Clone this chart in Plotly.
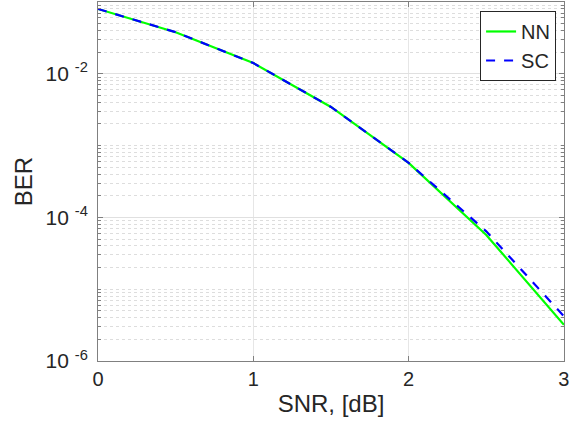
import plotly.graph_objects as go

snr_db = [0, 0.5, 1, 1.5, 2, 2.5, 3]
ber_nn = [0.080, 0.038, 0.0141, 0.00345, 5.75e-4, 5.7e-5, 3.2e-6]
ber_sc = [0.080, 0.038, 0.0141, 0.00345, 5.75e-4, 6.4e-5, 4.2e-6]

x_ticks = [0, 1, 2, 3]
y_major = [1e-6, 1e-4, 1e-2]
y_major_text = ["10 <sup>-6</sup>", "10 <sup>-4</sup>", "10 <sup>-2</sup>"]
y_minor = [k * 10.0 ** n for n in range(-6, -1) for k in range(1, 10)
           if not (k == 1 and n in (-6, -4, -2))] + [1e-1]

font_family = "Liberation Sans, Arial, sans-serif"
txt = "#262626"

fig = go.Figure()
fig.add_trace(go.Scatter(x=snr_db, y=ber_nn, mode="lines", name="NN",
                         line=dict(color="#00FF00", width=2.2)))
fig.add_trace(go.Scatter(x=snr_db, y=ber_sc, mode="lines", name="SC",
                         line=dict(color="#0000FF", width=2.2, dash="dash")))

fig.update_layout(
    width=575, height=430,
    margin=dict(l=98, r=11, t=2, b=69),
    paper_bgcolor="white", plot_bgcolor="white",
    font=dict(family=font_family, size=20, color=txt),
    showlegend=True,
    legend=dict(x=0.983, y=0.975, xanchor="right", yanchor="top",
                bgcolor="white", bordercolor="#262626", borderwidth=1,
                font=dict(size=20, color=txt), tracegroupgap=0,
                itemwidth=30),
    xaxis=dict(
        range=[0, 3.0005], tickvals=x_ticks, ticktext=[str(v) for v in x_ticks],
        showgrid=True, gridcolor="#E6E6E6", gridwidth=1,
        showline=True, linecolor="#808080", linewidth=1, mirror="ticks",
        ticks="inside", ticklen=5, tickcolor="#808080",
        zeroline=False,
        title=dict(text="SNR, [dB]", font=dict(size=24, color=txt), standoff=6),
        tickfont=dict(size=20, color=txt),
    ),
    yaxis=dict(
        type="log", range=[-6, -1],
        tickmode="array", tickvals=y_major, ticktext=y_major_text,
        showgrid=True, gridcolor="#E0E0E0", gridwidth=1,
        showline=True, linecolor="#808080", linewidth=1, mirror="ticks",
        ticks="inside", ticklen=5, tickcolor="#808080",
        ticklabelstandoff=5,
        zeroline=False,
        title=dict(text="BER", font=dict(size=24, color=txt), standoff=6),
        tickfont=dict(size=21, color=txt),
        minor=dict(tickmode="array", tickvals=y_minor, showgrid=True,
                   gridcolor="#DDDDDD", griddash="dot", gridwidth=1,
                   ticks="inside", ticklen=3, tickcolor="#808080"),
    ),
)

fig.write_html("out.html", config={"displayModeBar": False},
               post_script="document.body.style.margin='0';document.body.style.padding='0';")
